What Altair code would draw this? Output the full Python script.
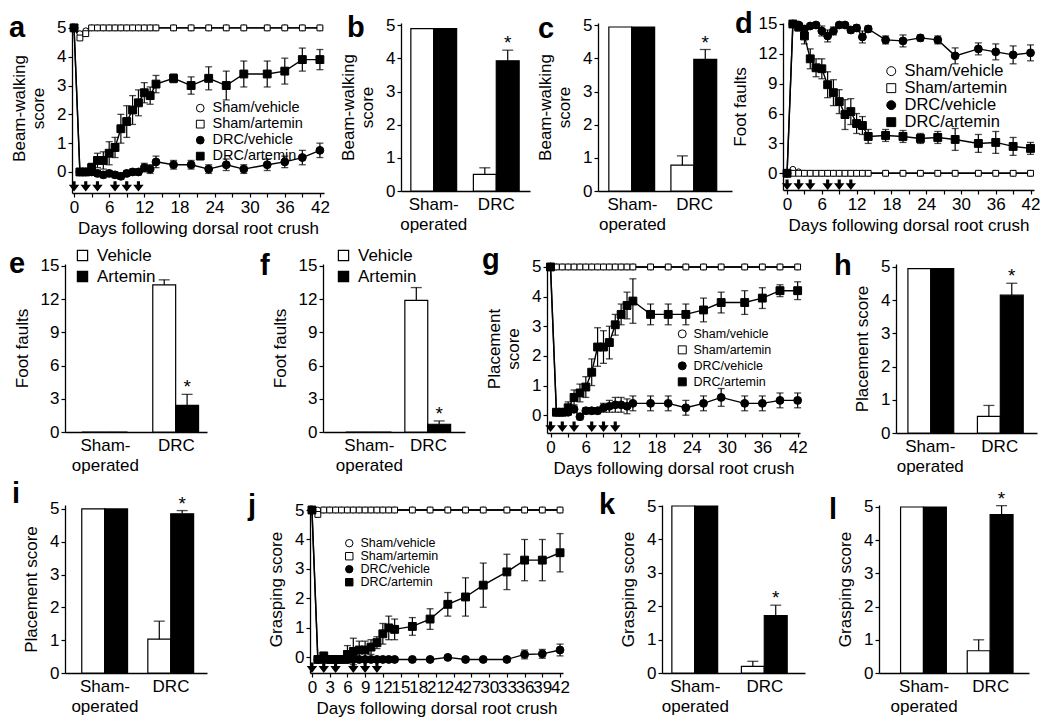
import altair as alt
import pandas as pd

FONT = "Liberation Sans"
SX = 0.985
SY = 0.985
ARROW_PATH = "M-0.3,-1L0.3,-1L0.3,-0.3L1,-0.3L0,1L-1,-0.3L-0.3,-0.3Z"

# ---------------- data ----------------
DAYS = [0, 1, 2, 3, 4, 5, 6, 7, 8, 9, 10, 11, 12, 13, 14, 17, 20, 23, 26, 29, 33, 36, 39, 42]
ARROW_DAYS = [0, 2, 4, 7, 9, 11]
SERIES = ["Sham/vehicle", "Sham/artemin", "DRC/vehicle", "DRC/artemin"]
GROUPS = ["Sham-operated", "DRC"]
TREATS = ["Vehicle", "Artemin"]
NOERR = [0.0] * 24

# a: beam-walking score
a_sham_veh = [5, 4.8, 4.9, 5, 5, 5, 5, 5, 5, 5, 5, 5, 5, 5, 5, 5, 5, 5, 5, 5, 5, 5, 5, 5]
a_sham_art = [5, 4.65, 4.8, 5, 5, 5, 5, 5, 5, 5, 5, 5, 5, 5, 5, 5, 5, 5, 5, 5, 5, 5, 5, 5]
a_drc_veh = [5, 0, 0, 0, -0.05, -0.1, -0.05, -0.1, -0.15, -0.05, 0, 0, 0.15, 0.1, 0.35, 0.25, 0.25, 0.1, 0.25, 0.1, 0.25, 0.35, 0.5, 0.75]
a_drc_veh_err = [0, 0.05, 0.05, 0.1, 0.1, 0.1, 0.1, 0.1, 0.1, 0.1, 0.1, 0.1, 0.15, 0.15, 0.2, 0.15, 0.15, 0.15, 0.2, 0.15, 0.2, 0.2, 0.25, 0.25]
a_drc_art = [5, 0, 0, 0.15, 0.4, 0.4, 0.65, 0.85, 1.5, 1.75, 2.15, 2.4, 2.75, 2.65, 3.05, 3.25, 3.0, 3.25, 3.0, 3.4, 3.4, 3.5, 3.9, 3.9]
a_drc_art_err = [0, 0.05, 0.1, 0.15, 0.25, 0.3, 0.4, 0.35, 0.5, 0.55, 0.5, 0.45, 0.35, 0.3, 0.3, 0.15, 0.3, 0.4, 0.5, 0.45, 0.45, 0.45, 0.4, 0.35]

# d: foot faults
d_sham_veh = [0, 0.4, 0.15, 0, 0, 0, 0, 0, 0, 0, 0, 0, 0, 0, 0, 0, 0, 0, 0, 0, 0, 0, 0, 0]
d_sham_art = [0, 0, 0, 0, 0, 0, 0, 0, 0, 0, 0, 0, 0, 0, 0, 0, 0, 0, 0, 0, 0, 0, 0, 0]
d_drc_veh = [0, 15, 14.9, 14.5, 14.8, 14.9, 14.3, 13.8, 14.3, 14.9, 14.9, 14.4, 14.6, 13.7, 14.5, 13.4, 13.3, 13.6, 13.4, 11.8, 12.5, 12.2, 11.9, 12.1]
d_drc_veh_err = [0, 0.1, 0.2, 0.3, 0.2, 0.2, 0.5, 0.6, 0.4, 0.2, 0.2, 0.3, 0.3, 0.6, 0.3, 0.4, 0.6, 0.3, 0.4, 0.8, 0.6, 0.8, 0.9, 0.8]
d_drc_art = [0, 15, 14.7, 13.8, 11.5, 10.6, 10.5, 8.9, 8.1, 7.2, 5.9, 6.2, 5.0, 4.8, 3.7, 3.8, 3.7, 3.5, 3.6, 3.4, 3.0, 3.1, 2.7, 2.5]
d_drc_art_err = [0, 0.2, 0.4, 0.8, 1.0, 0.9, 1.0, 1.3, 1.3, 1.2, 1.5, 1.3, 1.0, 0.9, 0.7, 0.6, 0.6, 0.5, 0.6, 1.1, 0.9, 1.1, 0.9, 0.6]

# g: placement score
g_sham_veh = [5] * 24
g_sham_art = [5] * 24
g_drc_veh = [5, 0.1, 0.1, 0.1, 0.2, -0.05, 0.15, 0.15, 0.15, 0.25, 0.3, 0.35, 0.35, 0.3, 0.4, 0.4, 0.4, 0.25, 0.4, 0.6, 0.4, 0.4, 0.5, 0.5]
g_drc_veh_err = [0, 0.05, 0.05, 0.1, 0.1, 0.1, 0.1, 0.1, 0.1, 0.15, 0.2, 0.25, 0.25, 0.25, 0.25, 0.25, 0.25, 0.25, 0.25, 0.3, 0.25, 0.25, 0.25, 0.25]
g_drc_art = [5, 0.1, 0.1, 0.25, 0.6, 0.75, 0.95, 1.45, 2.3, 2.3, 2.45, 3.05, 3.4, 3.7, 3.85, 3.4, 3.4, 3.4, 3.55, 3.8, 3.8, 3.95, 4.2, 4.2]
g_drc_art_err = [0, 0.05, 0.1, 0.2, 0.25, 0.3, 0.35, 0.45, 0.65, 0.55, 0.55, 0.35, 0.35, 0.45, 0.75, 0.35, 0.35, 0.35, 0.4, 0.35, 0.4, 0.35, 0.2, 0.3]

# j: grasping score
j_sham_veh = [5] * 24
j_sham_art = [5, 4.85, 5, 5, 5, 5, 5, 5, 5, 5, 5, 5, 5, 5, 5, 5, 5, 5, 5, 5, 5, 5, 5, 5]
j_drc_veh = [5, -0.07, -0.07, -0.07, -0.07, -0.07, -0.07, -0.07, -0.07, -0.07, -0.07, -0.07, -0.07, -0.07, -0.07, -0.07, -0.07, 0.0, -0.07, -0.07, -0.07, 0.1, 0.12, 0.25]
j_drc_veh_err = [0, 0, 0, 0, 0, 0, 0, 0, 0, 0, 0, 0, 0, 0, 0, 0, 0, 0.05, 0, 0, 0, 0.15, 0.15, 0.2]
j_drc_art = [5, -0.07, 0.05, -0.07, -0.07, -0.07, 0.1, 0.2, 0.25, 0.25, 0.35, 0.5, 0.8, 1.0, 0.95, 1.05, 1.3, 1.8, 2.05, 2.45, 2.9, 3.3, 3.3, 3.55]
j_drc_art_err = [0, 0, 0.05, 0.05, 0.05, 0.1, 0.3, 0.45, 0.3, 0.3, 0.25, 0.2, 0.35, 0.4, 0.35, 0.3, 0.35, 0.4, 0.65, 0.75, 0.6, 0.7, 0.7, 0.65]

# bar panels: values for [Sham-operated, DRC]
b_veh, b_art, b_veh_err, b_art_err = [4.9, 0.5], [4.9, 3.93], [0, 0.2], [0, 0.32]
c_veh, c_art, c_veh_err, c_art_err = [4.95, 0.78], [4.95, 3.97], [0, 0.28], [0, 0.3]
e_veh, e_art, e_veh_err, e_art_err = [0, 13.3], [0, 2.4], [0, 0.45], [0, 1.0]
f_veh, f_art, f_veh_err, f_art_err = [0, 11.9], [0, 0.7], [0, 1.15], [0, 0.3]
h_veh, h_art, h_veh_err, h_art_err = [4.95, 0.5], [4.95, 4.15], [0, 0.33], [0, 0.36]
i_veh, i_art, i_veh_err, i_art_err = [5, 1.03], [5, 4.85], [0, 0.55], [0, 0.1]
k_veh, k_art, k_veh_err, k_art_err = [5, 0.2], [5, 1.72], [0, 0.15], [0, 0.31]
l_veh, l_art, l_veh_err, l_art_err = [5, 0.67], [5, 4.77], [0, 0.33], [0, 0.27]
SIG = {"DRC": {"Artemin": "*"}}

XTITLE = "Days following dorsal root crush"
INDEP = dict(fill="independent", shape="independent", stroke="independent")


def letter_layer(letter, dx, dy):
    return alt.Chart(pd.DataFrame({"t": [letter]})).mark_text(
        font=FONT, fontSize=29, fontWeight="bold", align="left", baseline="alphabetic", color="black"
    ).encode(x=alt.value(dx), y=alt.value(dy), text="t:N")


def line_panel(letter, means, errs, ydom, yticks, ytitle, arrow_y, xdom, w, h,
               leg, letter_pos, all_labels=False):
    rows = []
    for name, m, e in zip(SERIES, means, errs):
        for d, v, s in zip(DAYS, m, e):
            rows.append({"day": d, "group": name, "mean": v, "lo": v - s, "hi": v + s, "err": s,
                         "sham": name.startswith("Sham")})
    df = pd.DataFrame(rows)
    arrows = pd.DataFrame({"day": ARROW_DAYS, "ay": [arrow_y] * len(ARROW_DAYS)})

    xscale = alt.Scale(domain=xdom, nice=False, zero=False)
    yscale = alt.Scale(domain=ydom, nice=False, zero=False)
    xaxis = alt.Axis(values=list(range(0, 43, 3)), title=XTITLE, labelOverlap=False, labelFlush=False,
                     labelExpr="datum.label" if all_labels else "datum.value % 6 === 0 ? datum.label : ''",
                     titlePadding=5, labelPadding=2)
    yaxis = alt.Axis(values=yticks, title=ytitle, labelFlush=False, titlePadding=9, labelPadding=2,
                     titleLineHeight=19)

    def X(f):
        return alt.X(f, type="quantitative", scale=xscale, axis=xaxis)

    def Y(f):
        return alt.Y(f, type="quantitative", scale=yscale, axis=yaxis)

    lx, ly, lfont, lgap, lsym = leg
    legend = alt.Legend(title=None, orient="none", legendX=lx, legendY=ly, labelFont=FONT,
                        labelFontSize=lfont, labelColor="black", symbolSize=lsym,
                        symbolStrokeWidth=1, rowPadding=0, clipHeight=lgap,
                        padding=0, labelOffset=5)
    shape = alt.Shape("group:N", scale=alt.Scale(domain=SERIES, range=["circle", "square", "circle", "square"]),
                      legend=legend)
    fill = alt.Fill("group:N", scale=alt.Scale(domain=SERIES, range=["white", "white", "black", "black"]),
                    legend=legend)
    stroke = alt.Stroke("group:N", scale=alt.Scale(domain=SERIES, range=["black", "black", "black", "black"]),
                        legend=legend)

    base = alt.Chart(df)
    lines = base.mark_line(color="black", strokeWidth=1.4).encode(x=X("day"), y=Y("mean"), detail="group:N")
    errd = base.transform_filter("datum.err > 0")
    rules = errd.mark_rule(color="black", strokeWidth=1.2).encode(x=X("day"), y=Y("lo"), y2="hi:Q")
    cap_lo = errd.mark_tick(orient="horizontal", size=7, thickness=1.3, color="black").encode(x=X("day"), y=Y("lo"))
    cap_hi = errd.mark_tick(orient="horizontal", size=7, thickness=1.3, color="black").encode(x=X("day"), y=Y("hi"))
    pts_sham = base.transform_filter("datum.sham").mark_point(
        filled=True, strokeWidth=1, opacity=1, size=34).encode(
        x=X("day"), y=Y("mean"), shape=shape, fill=fill, stroke=stroke)
    pts_drc = base.transform_filter("!datum.sham").mark_point(
        filled=True, strokeWidth=1, opacity=1, size=62).encode(
        x=X("day"), y=Y("mean"), shape=shape, fill=fill, stroke=stroke)
    arr = alt.Chart(arrows).mark_point(shape=ARROW_PATH, filled=True, color="black", size=110, opacity=1).encode(
        x=X("day"), y=Y("ay"))
    let = letter_layer(letter, *letter_pos)
    return alt.layer(lines, rules, cap_lo, cap_hi, pts_sham, pts_drc, arr, let).properties(
        width=round(w * SX), height=round(h * SY))


def bar_panel(letter, veh, art, veh_e, art_e, ydom, yticks, ytitle, w, h, gaps, letter_pos, leg=None):
    lg, p, g, rg = gaps
    step = p + g
    pin = g / step
    pout = (lg + rg) / (2 * step)
    al = lg / (lg + rg)
    rows = []
    for gi, grp in enumerate(GROUPS):
        for tr, vals, errs in (("Vehicle", veh, veh_e), ("Artemin", art, art_e)):
            v, e = vals[gi], errs[gi]
            rows.append({"grp": grp, "treat": tr, "value": v, "hi": v + e, "err": e,
                         "sig": SIG.get(grp, {}).get(tr, "")})
    df = pd.DataFrame(rows)
    xscale = alt.Scale(domain=GROUPS, paddingInner=pin, paddingOuter=pout, align=al)
    xaxis = alt.Axis(title=None, labelAngle=0, ticks=False, labelPadding=5, labelLineHeight=20,
                     labelBaseline="top",
                     labelExpr="datum.value == 'Sham-operated' ? ['Sham-', 'operated'] : datum.value")
    yscale = alt.Scale(domain=ydom, nice=False, zero=False)
    yaxis = alt.Axis(values=yticks, title=ytitle, labelFlush=False, titlePadding=9, labelPadding=2,
                     titleLineHeight=19)
    X = alt.X("grp:N", sort=GROUPS, scale=xscale, axis=xaxis)
    XO = alt.XOffset("treat:N", sort=TREATS, scale=alt.Scale(domain=TREATS, paddingInner=0, paddingOuter=0))

    def Y(f):
        return alt.Y(f, type="quantitative", scale=yscale, axis=yaxis)

    if leg is not None:
        lx, ly = leg
        legend = alt.Legend(title=None, orient="none", legendX=lx, legendY=ly, labelFont=FONT,
                            labelFontSize=17, labelColor="black", symbolType="square", symbolSize=105,
                            symbolStrokeColor="black", symbolStrokeWidth=1.2, rowPadding=0, clipHeight=21,
                            padding=0, labelOffset=6)
    else:
        legend = None
    base = alt.Chart(df)
    bars = base.mark_bar(stroke="black", strokeWidth=1.2).encode(
        x=X, xOffset=XO, y=Y("value"),
        fill=alt.Fill("treat:N", scale=alt.Scale(domain=TREATS, range=["white", "black"]), legend=legend))
    errd = base.transform_filter("datum.err > 0")
    rules = errd.mark_rule(color="black", strokeWidth=1.2).encode(x=X, xOffset=XO, y=Y("value"), y2="hi:Q")
    caps = errd.mark_tick(orient="horizontal", size=11, thickness=1.3, color="black").encode(x=X, xOffset=XO, y=Y("hi"))
    star = base.transform_filter("datum.sig != ''").mark_text(
        font=FONT, fontSize=19, baseline="alphabetic", dy=-1, color="black").encode(
        x=X, xOffset=XO, y=Y("hi"), text="sig:N")
    let = letter_layer(letter, *letter_pos)
    return alt.layer(bars, rules, caps, star, let).properties(width=round(w * SX), height=round(h * SY))


def spacer(w):
    return alt.Chart(pd.DataFrame({"s": [0]})).mark_point(opacity=0, size=1).encode(
        x=alt.value(0), y=alt.value(0)).properties(width=max(1, round(w * SX)), height=1)


def lead_spacer(w, top, bottom):
    # invisible guide that fixes the vertical extent of a row
    return alt.Chart(pd.DataFrame({"s": [0]})).mark_rule(opacity=0, strokeWidth=0.5).encode(
        x=alt.value(0), y=alt.value(-top), y2=alt.value(bottom)).properties(width=round(w * SX), height=1)


# ---------------- panels ----------------
pa = line_panel("a", [a_sham_veh, a_sham_art, a_drc_veh, a_drc_art],
                [NOERR, NOERR, a_drc_veh_err, a_drc_art_err],
                [-0.73, 5.17], [0, 1, 2, 3, 4, 5], ["Beam-walking", "score"], -0.5,
                [-0.35, 42.7], 256, 173, (121, 78, 14.5, 14.3, 60), (-63, 14))
pb = bar_panel("b", b_veh, b_art, b_veh_err, b_art_err, [0, 5.07], [0, 1, 2, 3, 4, 5],
               ["Beam-walking", "score"], 131, 171, (10, 46.5, 17, 11), (-54, 14))
pc = bar_panel("c", c_veh, c_art, c_veh_err, c_art_err, [0, 5.07], [0, 1, 2, 3, 4, 5],
               ["Beam-walking", "score"], 136, 171, (11, 48, 15, 14), (-60, 15))
pd_ = line_panel("d", [d_sham_veh, d_sham_art, d_drc_veh, d_drc_art],
                 [NOERR, NOERR, d_drc_veh_err, d_drc_art_err],
                 [-1.68, 15.1], [0, 3, 6, 9, 12, 15], "Foot faults", -1.15,
                 [-0.7, 42.6], 255, 170, (100, 40, 16.5, 16.3, 80), (-48, 10))
pe = bar_panel("e", e_veh, e_art, e_veh_err, e_art_err, [0, 15.18], [0, 3, 6, 9, 12, 15],
               "Foot faults", 144, 171, (17, 48, 24, 7), (-56, 9), leg=(9, -19))
pf = bar_panel("f", f_veh, f_art, f_veh_err, f_art_err, [0, 15.18], [0, 3, 6, 9, 12, 15],
               "Foot faults", 144, 171, (23, 48, 12, 13), (-63, 11), leg=(12, -19))
pg = line_panel("g", [g_sham_veh, g_sham_art, g_drc_veh, g_drc_art],
                [NOERR, NOERR, g_drc_veh_err, g_drc_art_err],
                [-0.6, 5.1], [0, 1, 2, 3, 4, 5], ["Placement", "score"], -0.39,
                [-0.6, 42.4], 257, 172, (129, 62, 12.5, 15.7, 64), (-65, 5))
ph = bar_panel("h", h_veh, h_art, h_veh_err, h_art_err, [0, 5.09], [0, 1, 2, 3, 4, 5],
               "Placement score", 143, 172, (12, 45, 25, 15), (-62, 11))
pi = bar_panel("i", i_veh, i_art, i_veh_err, i_art_err, [0, 5.12], [0, 1, 2, 3, 4, 5],
               "Placement score", 144, 171, (17, 47, 20, 13), (-53, -2))
pj = line_panel("j", [j_sham_veh, j_sham_art, j_drc_veh, j_drc_art],
                [NOERR, NOERR, j_drc_veh_err, j_drc_art_err],
                [-0.53, 5.17], [0, 1, 2, 3, 4, 5], "Grasping score", -0.35,
                [-0.33, 42.5], 257, 171, (33, 32, 12.5, 12.4, 55), (-62, 10), all_labels=True)
pk = bar_panel("k", k_veh, k_art, k_veh_err, k_art_err, [0, 5.03], [0, 1, 2, 3, 4, 5],
               "Grasping score", 145, 171, (10, 47.5, 23, 17), (-63, 9))
pl = bar_panel("l", l_veh, l_art, l_veh_err, l_art_err, [0, 5.06], [0, 1, 2, 3, 4, 5],
               "Grasping score", 152, 171, (22, 48, 20, 15), (-50, 14))

row1 = alt.hconcat(lead_spacer(63, 14, 219), pa, spacer(78), pb, spacer(69), pc, spacer(52), pd_,
                   spacing=0, bounds="flush").resolve_scale(**INDEP)
row2 = alt.hconcat(lead_spacer(56, 20, 214), pe, spacer(118), pf, spacer(83), pg, spacer(97), ph,
                   spacing=0, bounds="flush").resolve_scale(**INDEP)
row3 = alt.hconcat(lead_spacer(56, 25, 100), pi, spacer(105), pj, spacer(101), pk, spacer(75), pl,
                   spacing=0, bounds="flush").resolve_scale(**INDEP)

chart = alt.vconcat(row1, row2, row3, spacing=0, bounds="full", padding=0).resolve_scale(
    **INDEP
).configure(
    font=FONT, background="white"
).configure_view(
    stroke="transparent"
).configure_axis(
    domainColor="black", domainWidth=1.3, tickColor="black", tickWidth=1.2, tickSize=4,
    labelColor="black", labelFont=FONT, labelFontSize=17, titleFont=FONT, titleFontSize=17,
    titleFontWeight="normal", titleColor="black", grid=False,
)

chart.save("out.html", embed_options={"renderer": "svg", "actions": False})
